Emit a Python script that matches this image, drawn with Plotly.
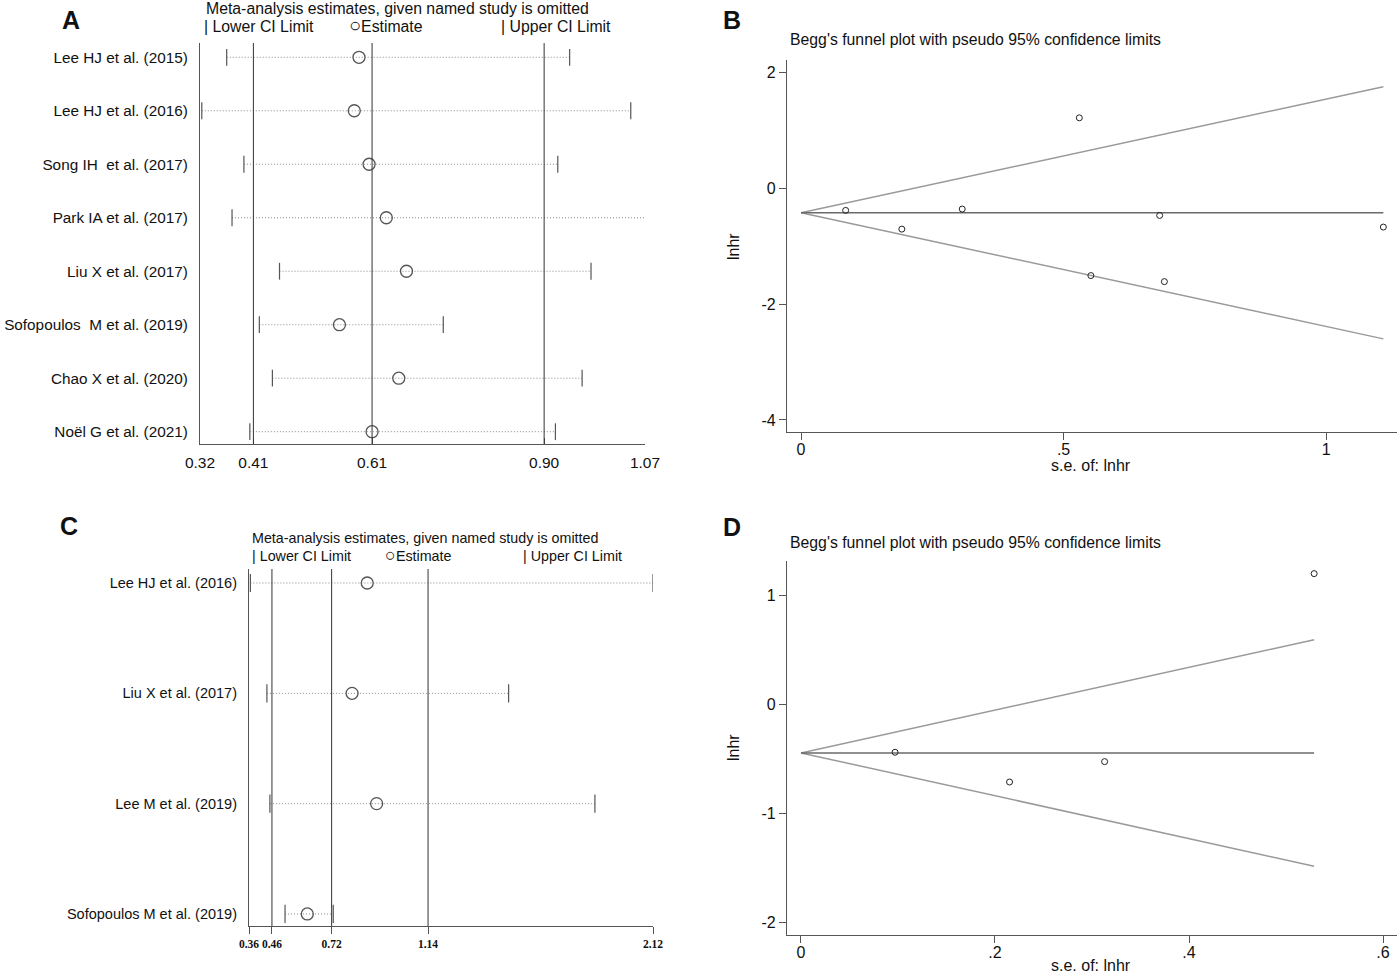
import plotly.graph_objects as go

# panel A: leave-one-out sensitivity (all studies)
studies_a = ["Lee HJ et al. (2015)", "Lee HJ et al. (2016)", "Song IH  et al. (2017)",
             "Park IA et al. (2017)", "Liu X et al. (2017)", "Sofopoulos  M et al. (2019)",
             "Chao X et al. (2020)", "Noël G et al. (2021)"]
est_a = [0.588, 0.580, 0.605, 0.634, 0.668, 0.555, 0.655, 0.610]
lo_a = [0.365, 0.323, 0.394, 0.374, 0.454, 0.420, 0.442, 0.404]
hi_a = [0.943, 1.046, 0.923, 1.072, 0.979, 0.730, 0.964, 0.919]
overall_a = [0.41, 0.61, 0.90]
ticks_a = [0.32, 0.41, 0.61, 0.90, 1.07]

# panel C: leave-one-out sensitivity (subgroup)
studies_c = ["Lee HJ et al. (2016)", "Liu X et al. (2017)", "Lee M et al. (2019)",
             "Sofopoulos M et al. (2019)"]
est_c = [0.875, 0.809, 0.916, 0.614]
lo_c = [0.366, 0.438, 0.451, 0.517]
hi_c = [2.12, 1.491, 1.867, 0.727]
overall_c = [0.46, 0.72, 1.14]
ticks_c = [0.36, 0.46, 0.72, 1.14, 2.12]

# panel B: Begg's funnel plot
se_b = [0.085, 0.192, 0.307, 0.530, 0.552, 0.683, 0.692, 1.109]
lnhr_b = [-0.386, -0.709, -0.363, 1.210, -1.510, -0.473, -1.614, -0.674]
funnel_x_b = [0, 1.109]
center_b = [-0.427, -0.427]
upper_b = [-0.427, 1.747]
lower_b = [-0.427, -2.601]

# panel D: Begg's funnel plot
se_d = [0.097, 0.215, 0.313, 0.529]
lnhr_d = [-0.440, -0.713, -0.526, 1.199]
funnel_x_d = [0, 0.529]
center_d = [-0.446, -0.446]
upper_d = [-0.446, 0.593]
lower_d = [-0.446, -1.486]

W, H = 1397, 974
FONT = "Liberation Sans, Arial, sans-serif"


def px(x):
    return x / W


def py(y):
    return 1 - y / H


fig = go.Figure()


def forest(fig, est, lo, hi, xa, ya, cap, circ):
    n = len(est)
    lx, ly = [], []
    for i in range(n):
        lx += [lo[i], hi[i], None]
        ly += [i, i, None]
    fig.add_trace(go.Scatter(x=lx, y=ly, mode="lines", xaxis=xa, yaxis=ya,
                             line=dict(color="#8a8a8a", width=1, dash="1px,2px"),
                             hoverinfo="skip"))
    fig.add_trace(go.Scatter(x=lo + hi, y=list(range(n)) * 2, mode="markers",
                             xaxis=xa, yaxis=ya,
                             marker=dict(symbol="line-ns", size=cap,
                                         line=dict(color="#555", width=1.2))))
    fig.add_trace(go.Scatter(x=est, y=list(range(n)), mode="markers",
                             xaxis=xa, yaxis=ya,
                             marker=dict(symbol="circle-open", size=circ,
                                         color="#555", line=dict(width=1.3))))


def funnel(fig, se, lnhr, fx, cen, up, low, xa, ya):
    fig.add_trace(go.Scatter(x=fx, y=up, mode="lines", xaxis=xa, yaxis=ya,
                             line=dict(color="#9a9a9a", width=1.5)))
    fig.add_trace(go.Scatter(x=fx, y=low, mode="lines", xaxis=xa, yaxis=ya,
                             line=dict(color="#9a9a9a", width=1.5)))
    fig.add_trace(go.Scatter(x=fx, y=cen, mode="lines", xaxis=xa, yaxis=ya,
                             line=dict(color="#6a6a6a", width=1.5)))
    fig.add_trace(go.Scatter(x=se, y=lnhr, mode="markers", xaxis=xa, yaxis=ya,
                             marker=dict(symbol="circle-open", size=6,
                                         color="#222", line=dict(width=1))))


forest(fig, est_a, lo_a, hi_a, "x", "y", 12, 12)
funnel(fig, se_b, lnhr_b, funnel_x_b, center_b, upper_b, lower_b, "x2", "y2")
forest(fig, est_c, lo_c, hi_c, "x3", "y3", 13, 12)
funnel(fig, se_d, lnhr_d, funnel_x_d, center_d, upper_d, lower_d, "x4", "y4")

shapes = []
for v in overall_a:
    shapes.append(dict(type="line", xref="x", yref="y domain", x0=v, x1=v, y0=0, y1=1,
                       line=dict(color="#333", width=1)))
for v in overall_c:
    shapes.append(dict(type="line", xref="x3", yref="y3 domain", x0=v, x1=v, y0=0, y1=1,
                       line=dict(color="#333", width=1)))

ax_common = dict(showgrid=False, zeroline=False, showline=True, linecolor="#555",
                 linewidth=1.2, tickcolor="#555", fixedrange=True, automargin=False,
                 tickangle=0)

layout_axes = dict(
    xaxis=dict(ax_common, domain=[px(200), px(645)], range=[0.32, 1.07], anchor="y",
               tickvals=ticks_a, ticktext=["%.2f" % t for t in ticks_a],
               ticks="inside", ticklen=6, tickfont=dict(size=15.5, color="#111"),
               ticklabelstandoff=4),
    yaxis=dict(ax_common, domain=[py(444), py(43)], range=[7.23, -0.267], anchor="x",
               tickvals=list(range(len(studies_a))), ticktext=studies_a, ticks="",
               tickfont=dict(size=15.3, color="#111"), ticklabelstandoff=8),
    xaxis2=dict(ax_common, domain=[px(787), 1], range=[-0.0267, 1.135], anchor="y2",
                tickvals=[0, 0.5, 1], ticktext=["0", ".5", "1"], ticks="outside",
                ticklen=7, tickfont=dict(size=16, color="#111"), ticklabelstandoff=-4),
    yaxis2=dict(ax_common, domain=[py(432), py(60)], range=[-4.207, 2.207], anchor="x2",
                tickvals=[2, 0, -2, -4], ticktext=["2", "0", "-2", "-4"], ticks="outside",
                ticklen=7, tickfont=dict(size=16, color="#111")),
    xaxis3=dict(ax_common, domain=[px(249), px(653)], range=[0.36, 2.12], anchor="y3",
                tickvals=ticks_c, ticktext=["%.2f" % t for t in ticks_c],
                ticks="outside", ticklen=7,
                tickfont=dict(size=11.5, color="#111", family="Liberation Serif, Times New Roman, serif",
                              weight="bold")),
    yaxis3=dict(ax_common, domain=[py(926), py(569)], range=[3.109, -0.127], anchor="x3",
                tickvals=list(range(len(studies_c))), ticktext=studies_c, ticks="",
                tickfont=dict(size=14.5, color="#111"), ticklabelstandoff=8),
    xaxis4=dict(ax_common, domain=[px(787), 1], range=[-0.0144, 0.6144], anchor="y4",
                tickvals=[0, 0.2, 0.4, 0.6], ticktext=["0", ".2", ".4", ".6"],
                ticks="outside", ticklen=7, tickfont=dict(size=16, color="#111"),
                ticklabelstandoff=-4),
    yaxis4=dict(ax_common, domain=[py(935), py(561)], range=[-2.117, 1.315], anchor="x4",
                tickvals=[1, 0, -1, -2], ticktext=["1", "0", "-1", "-2"], ticks="outside",
                ticklen=7, tickfont=dict(size=16, color="#111")),
)


def note(text, x, y, size, anchor="left", bold=False, angle=0, family=None):
    return dict(text=("<b>%s</b>" % text) if bold else text, x=px(x), y=py(y),
                xref="paper", yref="paper", xanchor=anchor, yanchor="middle",
                showarrow=False, textangle=angle,
                font=dict(size=size, color="#111", family=family or FONT))


annotations = [
    note("A", 71, 20, 25, "center", True),
    note("B", 732, 20, 25, "center", True),
    note("C", 69, 526, 25, "center", True),
    note("D", 732, 527, 25, "center", True),
    note("Meta-analysis estimates, given named study is omitted", 204, 9, 15.8),
    note("| Lower CI Limit", 202, 27, 15.8),
    note("<span style='font-size:20px'>○</span>Estimate", 347, 25, 15.8),
    note("| Upper CI Limit", 499, 27, 15.8),
    note("Meta-analysis estimates, given named study is omitted", 250, 538, 14.3),
    note("| Lower CI Limit", 250, 556, 14.3),
    note("<span style='font-size:18px'>○</span>Estimate", 383, 554.5, 14.3),
    note("| Upper CI Limit", 521, 556, 14.3),
    note("Begg's funnel plot with pseudo 95% confidence limits", 788, 40, 15.8),
    note("Begg's funnel plot with pseudo 95% confidence limits", 788, 542, 15.8),
    note("lnhr", 733, 247, 16, "center", angle=-90),
    note("lnhr", 733, 748, 16, "center", angle=-90),
    note("s.e. of: lnhr", 1091, 465, 16, "center"),
    note("s.e. of: lnhr", 1091, 965, 16, "center"),
]

fig.update_layout(
    width=W, height=H, margin=dict(l=0, r=0, t=0, b=0),
    paper_bgcolor="white", plot_bgcolor="white", showlegend=False,
    font=dict(family=FONT, color="#111"),
    shapes=shapes, annotations=annotations,
    **layout_axes
)

# the default page has an 8px body margin; drop it so the figure sits at the corner
fig.write_html("out.html", config={"displayModeBar": False},
               post_script="document.body.style.margin='0';")
